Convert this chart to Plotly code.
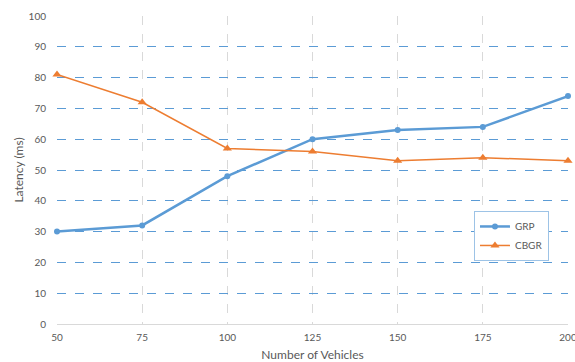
import plotly.graph_objects as go

vehicles = [50, 75, 100, 125, 150, 175, 200]
grp = [30, 32, 48, 60, 63, 64, 74]
cbgr = [81, 72, 57, 56, 53, 54, 53]

fig = go.Figure()
fig.add_trace(go.Scatter(x=vehicles, y=grp, name="GRP", mode="lines+markers",
                         line=dict(color="#5B9BD5", width=2.5),
                         marker=dict(symbol="circle", size=6, color="#5B9BD5"),
                         cliponaxis=False))
fig.add_trace(go.Scatter(x=vehicles, y=cbgr, name="CBGR", mode="lines+markers",
                         line=dict(color="#ED7D31", width=1.5),
                         marker=dict(symbol="triangle-up", size=8, color="#ED7D31"),
                         cliponaxis=False))

fig.update_layout(
    width=575, height=362,
    margin=dict(l=57, r=7, t=16, b=38),
    paper_bgcolor="white", plot_bgcolor="white",
    font=dict(family="Lato, Open Sans, sans-serif", size=10, color="#595959"),
    legend=dict(x=0.816, y=0.367, xanchor="left", yanchor="top",
                bordercolor="#9DC3E6", borderwidth=1, bgcolor="white",
                font=dict(size=10, color="#595959"), tracegroupgap=0,
                itemwidth=30),
    xaxis=dict(range=[50, 200], tickvals=vehicles, ticktext=[str(v) for v in vehicles],
               showgrid=True, gridcolor="#D9D9D9", griddash="dash", gridwidth=1,
               showline=True, linecolor="#D9D9D9", linewidth=1,
               zeroline=False, ticks="outside", ticklen=4, tickcolor="rgba(0,0,0,0)",
               automargin=False, ticklabeloverflow="allow",
               title=dict(text="Number of Vehicles", standoff=8)),
    yaxis=dict(range=[0, 100], dtick=10,
               showgrid=True, gridcolor="#5B9BD5", griddash="dash", gridwidth=1,
               showline=False, zeroline=False, ticks="outside", ticklen=8,
               tickcolor="rgba(0,0,0,0)", automargin=False,
               title=dict(text="Latency (ms)", standoff=2)),
)
fig.write_html("out.html", config={"displayModeBar": False},
               post_script="document.body.style.margin='0';document.body.style.overflow='hidden';")
